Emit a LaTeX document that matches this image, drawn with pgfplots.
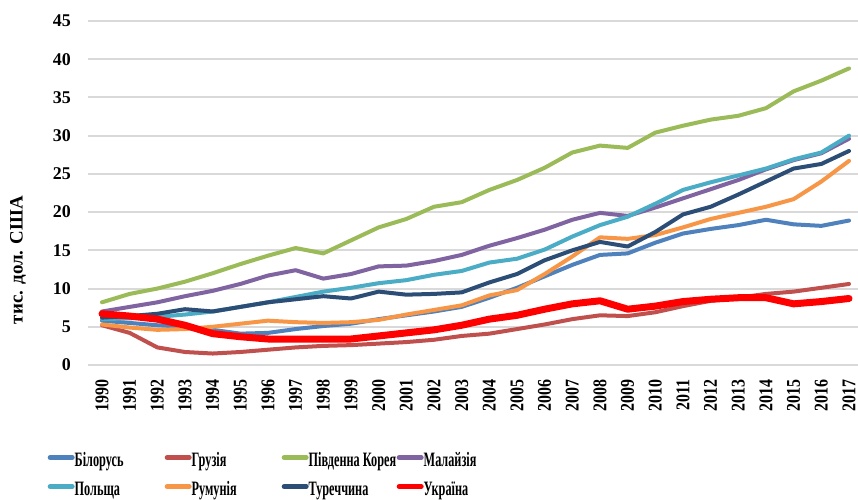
\documentclass[border=0pt]{standalone}
\usepackage{fontspec}
\setmainfont{Liberation Serif}
\newfontfamily\legfont{Liberation Serif}[FakeStretch=0.6]
\newfontfamily\yrfont{Liberation Serif}[FakeStretch=0.82]
\usepackage{pgfplots}
\usepackage{pgfplotstable}
\pgfplotsset{compat=1.18}
\definecolor{cBel}{HTML}{4F81BD}
\definecolor{cGeo}{HTML}{C0504D}
\definecolor{cKor}{HTML}{9BBB59}
\definecolor{cMal}{HTML}{8064A2}
\definecolor{cPol}{HTML}{4BACC6}
\definecolor{cRom}{HTML}{F79646}
\definecolor{cTur}{HTML}{2C4D75}
\definecolor{cUkr}{HTML}{FF0000}
\definecolor{cGrid}{HTML}{D9D9D9}
\pgfplotstableread{
year Bel Geo Kor Mal Pol Rom Tur Ukr
1990 5.8 5.2 8.2 7.0 6.0 5.3 6.2 6.7
1991 5.5 4.2 9.3 7.6 6.1 4.9 6.4 6.4
1992 5.2 2.3 10.0 8.2 6.3 4.6 6.7 6.0
1993 5.0 1.7 10.9 9.0 6.6 4.7 7.3 5.2
1994 4.6 1.5 12.0 9.7 7.0 5.0 7.0 4.1
1995 4.1 1.7 13.2 10.6 7.6 5.4 7.6 3.7
1996 4.2 2.0 14.3 11.7 8.2 5.8 8.2 3.4
1997 4.7 2.3 15.3 12.4 8.9 5.6 8.6 3.4
1998 5.1 2.5 14.6 11.3 9.6 5.5 9.0 3.4
1999 5.4 2.6 16.3 11.9 10.1 5.6 8.7 3.4
2000 6.0 2.8 18.0 12.9 10.7 5.9 9.6 3.8
2001 6.5 3.0 19.1 13.0 11.1 6.6 9.2 4.2
2002 7.0 3.3 20.7 13.6 11.8 7.2 9.3 4.6
2003 7.6 3.8 21.3 14.4 12.3 7.8 9.5 5.2
2004 8.8 4.1 22.9 15.6 13.4 9.1 10.8 6.0
2005 10.1 4.7 24.2 16.6 13.9 9.8 11.9 6.5
2006 11.6 5.3 25.8 17.7 15.1 11.9 13.7 7.3
2007 13.1 6.0 27.8 19.0 16.8 14.2 15.0 8.0
2008 14.4 6.5 28.7 19.9 18.3 16.7 16.1 8.4
2009 14.6 6.4 28.4 19.5 19.4 16.5 15.5 7.3
2010 16.0 6.9 30.4 20.6 21.1 17.0 17.4 7.7
2011 17.2 7.7 31.3 21.8 22.9 18.0 19.7 8.3
2012 17.8 8.4 32.1 23.0 23.9 19.1 20.7 8.6
2013 18.3 8.8 32.6 24.2 24.8 19.9 22.3 8.8
2014 19.0 9.3 33.6 25.6 25.7 20.7 24.0 8.8
2015 18.4 9.6 35.8 26.8 26.9 21.7 25.7 8.0
2016 18.2 10.1 37.2 27.7 27.8 24.0 26.3 8.3
2017 18.9 10.6 38.8 29.6 30.0 26.7 28.0 8.7
}\datatable
\begin{document}
\begin{tikzpicture}
\useasboundingbox (0,0) rectangle (858bp,500bp);
\fill[white] (0,0) rectangle (858bp,500bp);
\begin{axis}[
  at={(88bp,135bp)}, anchor=south west,
  scale only axis, width=770bp, height=344bp,
  xmin=1989.494, xmax=2017.325, ymin=0, ymax=45,
  axis line style={draw=none},
  major tick length=0pt,
  ymajorgrids, grid style={draw=cGrid, line width=2bp},
  xtick={1990,...,2017}, ytick={0,5,...,45},
  /pgf/number format/assume math mode=true,
  /pgf/number format/1000 sep={},
  yticklabel style={font=\bfseries\fontsize{18}{20}\selectfont, anchor=east, inner sep=0pt, xshift=-17bp},
  xticklabel style={font=\yrfont\bfseries\fontsize{19.5}{20}\selectfont, yshift=-14bp, rotate=90, anchor=east, inner sep=0pt},
  legend columns=4,
  legend cell align=left,
  legend style={at={(-0.0526,-0.254)}, anchor=north west, draw=none, fill=none,
    inner sep=0pt, column sep=0pt, row sep=10bp,
    font=\legfont\bfseries\fontsize{20.5}{22}\selectfont,
    nodes={inner sep=0pt, text height=14bp, text depth=5bp}},
  legend image code/.code={\draw[line width=5bp, line cap=round, #1] (0bp,4.5bp) -- (22bp,4.5bp);},
  every axis plot/.append style={line width=4bp, line join=round, line cap=round},
]
\addplot[cBel] table[x=year, y=Bel] {\datatable};
\addlegendentry{\makebox[90bp][l]{Білорусь}}
\addplot[cGeo] table[x=year, y=Geo] {\datatable};
\addlegendentry{\makebox[90bp][l]{Грузія}}
\addplot[cKor] table[x=year, y=Kor] {\datatable};
\addlegendentry{\makebox[88bp][l]{Південна Корея}}
\addplot[cMal] table[x=year, y=Mal] {\datatable};
\addlegendentry{\makebox[90bp][l]{Малайзія}}
\addplot[cPol] table[x=year, y=Pol] {\datatable};
\addlegendentry{\makebox[90bp][l]{Польща}}
\addplot[cRom] table[x=year, y=Rom] {\datatable};
\addlegendentry{\makebox[90bp][l]{Румунія}}
\addplot[cTur] table[x=year, y=Tur] {\datatable};
\addlegendentry{\makebox[88bp][l]{Туреччина}}
\addplot[cUkr, line width=7bp] table[x=year, y=Ukr] {\datatable};
\addlegendentry{\makebox[90bp][l]{Україна}}
\end{axis}
\node[rotate=90, font=\bfseries\fontsize{19}{20}\selectfont] at (18bp,240bp) {тис. дол. США};
\end{tikzpicture}
\end{document}
